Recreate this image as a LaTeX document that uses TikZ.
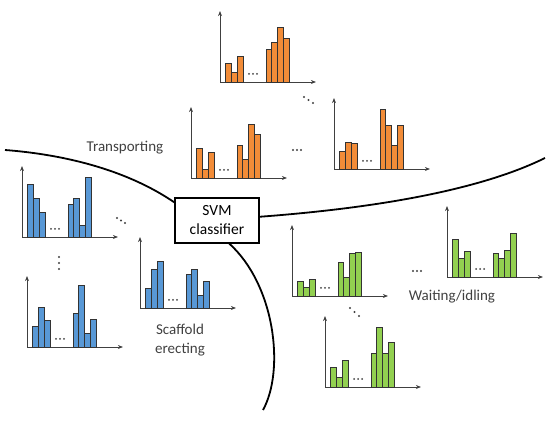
\documentclass[tikz,border=0pt]{standalone}
\usepackage{fontspec}
\setmainfont{Carlito}
\usetikzlibrary{arrows.meta}
\definecolor{BarOrange}{RGB}{242,140,56}
\definecolor{BarBlue}{RGB}{88,152,214}
\definecolor{BarGreen}{RGB}{146,208,80}
\definecolor{LabelGray}{RGB}{64,64,64}
\tikzset{
    axis/.style={line width=0.8pt,black!75,-{Stealth[length=1.8mm,width=1.4mm]}},
    bar/.style={line width=0.6pt,draw=black!80},
    border/.style={line width=1.8pt,black},
    label/.style={text=LabelGray,font=\fontsize{15}{19}\selectfont,align=center},
}
% one histogram: #1 origin, #2 colour, #3 first group, #4 second group
\newcommand{\histo}[4]{
    \begin{scope}[shift={#1}]
        \draw[axis] (0,0) -- (0,-71);
        \draw[axis] (0,0) -- (96,0);
        \foreach[count=\i] \h in {#3} {
            \draw[bar,fill=#2] ({5+6*(\i-1)},0) rectangle ++(6,-\h);
        }
        \foreach[count=\i] \h in {#4} {
            \draw[bar,fill=#2] ({46+5.7*(\i-1)},0) rectangle ++(5.7,-\h);
        }
        \foreach \d in {-4,0,4} {
            \fill[black!75] (33+\d,-8) circle (1);
        }
    \end{scope}
}

\begin{document}
\begin{tikzpicture}[x=1pt,y=-1pt]
                \useasboundingbox (0,0) rectangle (550,422);

                % transporting
                \histo{(220,82)}{BarOrange}{19,10,26}{33,40,55,44}
                \histo{(191,178)}{BarOrange}{30,9,26}{33,19,54,44}
                \histo{(334,169)}{BarOrange}{18,27,26}{60,44,24,44}
                % scaffold erecting
                \histo{(22,237)}{BarBlue}{53,39,25}{33,39,12,60}
                \histo{(27,347)}{BarBlue}{21,40,27}{34,62,14,28}
                \histo{(140,308)}{BarBlue}{20,39,47}{34,39,13,27}
                % waiting/idling
                \histo{(292,296)}{BarGreen}{15,9,17}{34,19,43,44}
                \histo{(447,277)}{BarGreen}{38,19,26}{24,19,27,44}
                \histo{(325,387)}{BarGreen}{20,10,27}{34,60,34,45}

                % dots between the histograms
                \foreach \p in {(304,97),(308.5,100),(313,103),
                                (293,150),(297,150),(301,150),
                                (117,218),(121,220.5),(125,223),
                                (59,257),(59,263),(59,269),
                                (413,271),(417,271),(421,271),
                                (350,308),(354.5,312),(359,316)} {
                    \fill[black!75] \p circle (1.1);
                }

                \node[draw,line width=1.2pt,fill=white,minimum width=84pt,minimum height=45pt,
                      align=center,font=\fontsize{15.5}{19}\selectfont] (svm) at (217,220.5) {SVM\\classifier};

                \draw[border] (5,150) .. controls (70,155) and (130,172) .. (svm.157);
                \draw[border] (svm.5) .. controls (350,210) and (470,195) .. (545,158);
                \draw[border] (svm.-62) .. controls (275,285) and (285,370) .. (263,410);

                \node[label] (transp) at (125,148) {Transporting};
                \node[label] (scaff) at (180,340) {Scaffold\\erecting};
                \node[label] (wait) at (452,297) {Waiting/idling};
            \end{tikzpicture}
\end{document}
